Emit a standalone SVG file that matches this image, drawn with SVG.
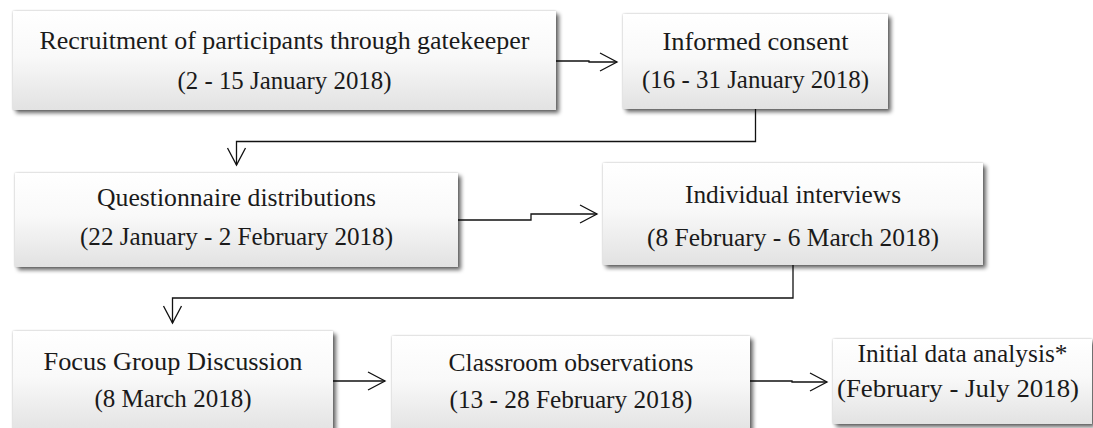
<svg xmlns="http://www.w3.org/2000/svg" width="1093" height="428" viewBox="0 0 1093 428">
  <defs>
    <linearGradient id="boxFill" x1="0" y1="0" x2="0" y2="1">
      <stop offset="0" stop-color="#ffffff"/>
      <stop offset="0.45" stop-color="#f9f9f9"/>
      <stop offset="1" stop-color="#e2e2e2"/>
    </linearGradient>
    <filter id="shadow" x="-5%" y="-10%" width="115%" height="130%">
      <feGaussianBlur in="SourceAlpha" stdDeviation="2"/>
      <feOffset dx="3" dy="3" result="off"/>
      <feComponentTransfer in="off" result="soft">
        <feFuncA type="linear" slope="0.6"/>
      </feComponentTransfer>
      <feGaussianBlur in="SourceAlpha" stdDeviation="0.8" result="rim"/>
      <feComponentTransfer in="rim" result="rimSoft">
        <feFuncA type="linear" slope="0.25"/>
      </feComponentTransfer>
      <feMerge>
        <feMergeNode in="soft"/>
        <feMergeNode in="rimSoft"/>
        <feMergeNode in="SourceGraphic"/>
      </feMerge>
    </filter>
    <marker id="openArrow" markerUnits="userSpaceOnUse" markerWidth="20" markerHeight="22" viewBox="-18 -10 20 20" refX="0" refY="0" orient="auto">
      <path d="M-17,-9 L0,0 L-17,9" fill="none" stroke="#111" stroke-width="1.3"/>
    </marker>
  </defs>
  <style>
    .box { fill: url(#boxFill); filter: url(#shadow); }
    .label { font-family: "Liberation Serif", "Times New Roman", serif; font-size: 26px; fill: #1a1a1a; text-anchor: middle; }
    .conn { fill: none; stroke: #111; stroke-width: 1.3; marker-end: url(#openArrow); }
  </style>

  <rect width="1093" height="428" fill="#ffffff"/>

  <g id="connectors">
    <path class="conn" d="M556,61 H589 V62 H617"/>
    <path class="conn" d="M755.5,109 V141.5 H236.5 V165"/>
    <path class="conn" d="M458,220 H531 V214 H597"/>
    <path class="conn" d="M793,265 V298 H172.5 V323"/>
    <path class="conn" d="M333,381 H385"/>
    <path class="conn" d="M750,381 H792 V382 H827"/>
  </g>

  <g id="recruitment">
    <rect class="box" x="13" y="11" width="543" height="99"/>
    <text class="label" x="284.5" y="49" textLength="490" lengthAdjust="spacingAndGlyphs">Recruitment of participants through gatekeeper</text>
    <text class="label" x="284.5" y="89" textLength="214" lengthAdjust="spacingAndGlyphs">(2 - 15 January 2018)</text>
  </g>

  <g id="consent">
    <rect class="box" x="623" y="14" width="265" height="95"/>
    <text class="label" x="755.5" y="50" textLength="186" lengthAdjust="spacingAndGlyphs">Informed consent</text>
    <text class="label" x="755.5" y="88" textLength="227" lengthAdjust="spacingAndGlyphs">(16 - 31 January 2018)</text>
  </g>

  <g id="questionnaire">
    <rect class="box" x="15" y="173" width="443" height="94"/>
    <text class="label" x="236.5" y="206" textLength="279" lengthAdjust="spacingAndGlyphs">Questionnaire distributions</text>
    <text class="label" x="236.5" y="245" textLength="313" lengthAdjust="spacingAndGlyphs">(22 January - 2 February 2018)</text>
  </g>

  <g id="interviews">
    <rect class="box" x="603" y="163" width="380" height="102"/>
    <text class="label" x="793" y="203" textLength="216" lengthAdjust="spacingAndGlyphs">Individual interviews</text>
    <text class="label" x="793" y="246" textLength="292" lengthAdjust="spacingAndGlyphs">(8 February - 6 March 2018)</text>
  </g>

  <g id="focus-group">
    <rect class="box" x="13" y="331" width="320" height="102"/>
    <text class="label" x="173" y="370" textLength="259" lengthAdjust="spacingAndGlyphs">Focus Group Discussion</text>
    <text class="label" x="173" y="407" textLength="157" lengthAdjust="spacingAndGlyphs">(8 March 2018)</text>
  </g>

  <g id="observations">
    <rect class="box" x="392" y="336" width="358" height="97"/>
    <text class="label" x="571" y="371" textLength="245" lengthAdjust="spacingAndGlyphs">Classroom observations</text>
    <text class="label" x="571" y="408" textLength="243" lengthAdjust="spacingAndGlyphs">(13 - 28 February 2018)</text>
  </g>

  <g id="analysis">
    <rect class="box" x="833" y="339" width="259" height="85"/>
    <text class="label" x="962.5" y="362" textLength="210" lengthAdjust="spacingAndGlyphs">Initial data analysis*</text>
    <text class="label" x="958" y="397" textLength="242" lengthAdjust="spacingAndGlyphs">(February - July 2018)</text>
  </g>
</svg>
